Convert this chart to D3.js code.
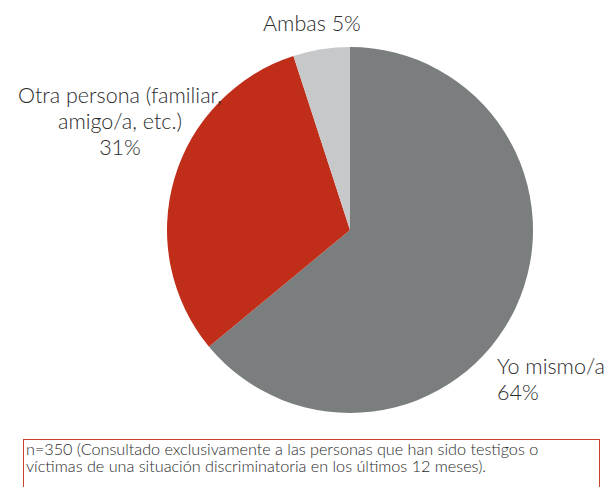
<!DOCTYPE html>
<html>
<head>
<meta charset="utf-8">
<script src="https://cdn.jsdelivr.net/npm/d3@7"></script>
<style>
  body { margin: 0; background: #fff; }
  svg { display: block; font-family: Lato, "Open Sans", sans-serif; }
  .lbl { fill: #2b2b2b; font-size: 21.5px; font-weight: 300; }
  .note { fill: #2b2b2b; font-size: 16.2px; font-weight: 300; }
</style>
</head>
<body>
<div id="chart"></div>
<script>
'use strict'

// slices, clockwise from 12 o'clock
const categories = ['Yo mismo/a', 'Otra persona (familiar, amigo/a, etc.)', 'Ambas']
const values = [64, 31, 5]
const colors = ['#7b7e7e', '#c02e1a', '#c7c8ca']

const noteLines = [
  'n=350 (Consultado exclusivamente a las personas que han sido testigos o',
  'víctimas de una situación discriminatoria en los últimos 12 meses).'
]

const width = 609
const height = 487
const cx = 350
const cy = 230
const radius = 183

const svg = d3.select('#chart')
  .append('svg')
  .attr('width', width)
  .attr('height', height)

const data = categories.map((c, i) => ({ name: c, value: values[i], color: colors[i] }))

const pie = d3.pie()
  .sort(null)
  .value(d => d.value)

const arc = d3.arc()
  .innerRadius(0)
  .outerRadius(radius)

const arcs = pie(data)

svg.append('g')
  .attr('class', 'slices')
  .attr('transform', `translate(${cx},${cy})`)
  .selectAll('path')
  .data(arcs)
  .enter()
  .append('path')
  .attr('d', arc)
  .attr('fill', d => d.data.color)

// labels (placed by hand like the original, outside the pie)
const labels = [
  { lines: ['Ambas ' + values[2] + '%'], x: 312, y: 31, anchor: 'middle' },
  { lines: ['Otra persona (familiar,', 'amigo/a, etc.)', values[1] + '%'], x: 120, y: 103, anchor: 'middle' },
  { lines: ['Yo mismo/a', values[0] + '%'], x: 497, y: 374, anchor: 'start' }
]

const lab = svg.append('g').attr('class', 'labels')
labels.forEach(l => {
  const t = lab.append('text')
    .attr('class', 'lbl')
    .attr('x', l.x)
    .attr('y', l.y)
    .attr('text-anchor', l.anchor)
  l.lines.forEach((s, i) => {
    t.append('tspan')
      .attr('x', l.x)
      .attr('dy', i === 0 ? 0 : 26)
      .text(s)
  })
})

// footnote box
const note = svg.append('g').attr('class', 'footnote')
note.append('rect')
  .attr('x', 23.5)
  .attr('y', 439.5)
  .attr('width', 576)
  .attr('height', 80)
  .attr('fill', 'none')
  .attr('stroke', '#c9432f')
  .attr('stroke-width', 1)

note.selectAll('text')
  .data(noteLines)
  .enter()
  .append('text')
  .attr('class', 'note')
  .attr('x', 26)
  .attr('y', (d, i) => 454.5 + i * 17.5)
  .text(d => d)
</script>
</body>
</html>
